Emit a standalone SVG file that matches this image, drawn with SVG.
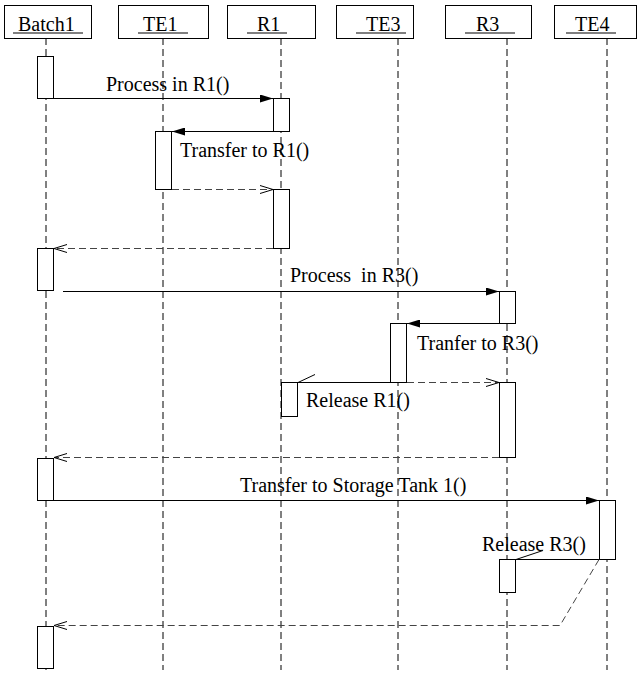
<svg xmlns="http://www.w3.org/2000/svg" width="639" height="675" viewBox="0 0 639 675">
<defs>
<style>
.hdr{fill:#fff;stroke:#000;stroke-width:1}
.ul{stroke:#555;stroke-width:1.5}
.life{stroke:#000;stroke-width:1;stroke-dasharray:7,4;fill:none}
.act{fill:#fff;stroke:#000;stroke-width:1}
.msg{stroke:#000;stroke-width:1;fill:none}
.ret{stroke:#444;stroke-width:1;stroke-dasharray:7,4;fill:none}
text{font-family:"Liberation Serif","Times New Roman",serif;font-size:20px;fill:#000}
</style>
<marker id="filled" markerWidth="14" markerHeight="8" refX="13" refY="4" orient="auto" markerUnits="userSpaceOnUse">
<path d="M0,0 L13,4 L0,8 Z" fill="#000"/>
</marker>
<marker id="open" markerWidth="14" markerHeight="10" refX="13" refY="5" orient="auto" markerUnits="userSpaceOnUse">
<path d="M0,1 L13,5 L0,9" fill="none" stroke="#000" stroke-width="1"/>
</marker>
</defs>
<rect width="639" height="675" fill="#fff"/>

<g id="lifelines">
<line class="life" x1="46" y1="38" x2="46" y2="670"/>
<line class="life" x1="163" y1="38" x2="163" y2="670"/>
<line class="life" x1="281" y1="38" x2="281" y2="670"/>
<line class="life" x1="398" y1="38" x2="398" y2="670"/>
<line class="life" x1="507" y1="38" x2="507" y2="670"/>
<line class="life" x1="607" y1="38" x2="607" y2="670"/>
</g>

<g id="Batch1">
<rect class="hdr" x="4.5" y="5.5" width="87" height="33"/>
<line class="ul" x1="13" y1="33" x2="83" y2="33"/>
<text x="18" y="31">Batch1</text>
<rect class="act" x="37.5" y="56.5" width="16" height="42"/>
<rect class="act" x="37.5" y="248.5" width="16" height="42"/>
<rect class="act" x="37.5" y="458.5" width="16" height="42"/>
<rect class="act" x="37.5" y="626.5" width="16" height="42"/>
</g>

<g id="TE1">
<rect class="hdr" x="118.5" y="5.5" width="90" height="33"/>
<line class="ul" x1="138" y1="33" x2="188" y2="33"/>
<text x="143" y="31">TE1</text>
<rect class="act" x="155.5" y="131.5" width="16" height="58"/>
</g>

<g id="R1">
<rect class="hdr" x="227.5" y="5.5" width="88" height="33"/>
<line class="ul" x1="247" y1="33" x2="287" y2="33"/>
<text x="257" y="31">R1</text>
<rect class="act" x="273.5" y="98.5" width="16" height="33"/>
<rect class="act" x="273.5" y="189.5" width="16" height="59"/>
<rect class="act" x="281.5" y="382.5" width="16" height="34"/>
</g>

<g id="TE3">
<rect class="hdr" x="336.5" y="5.5" width="77" height="33"/>
<line class="ul" x1="356" y1="33" x2="406" y2="33"/>
<text x="366" y="31">TE3</text>
<rect class="act" x="390.5" y="323.5" width="16" height="59"/>
</g>

<g id="R3">
<rect class="hdr" x="445.5" y="5.5" width="86" height="33"/>
<line class="ul" x1="465" y1="33" x2="515" y2="33"/>
<text x="476" y="31">R3</text>
<rect class="act" x="499.5" y="291.5" width="16" height="32"/>
<rect class="act" x="499.5" y="382.5" width="16" height="75"/>
<rect class="act" x="499.5" y="559.5" width="16" height="33"/>
</g>

<g id="TE4">
<rect class="hdr" x="554.5" y="5.5" width="82" height="33"/>
<line class="ul" x1="566" y1="33" x2="616" y2="33"/>
<text x="575" y="31">TE4</text>
<rect class="act" x="599.5" y="500.5" width="16" height="59"/>
</g>

<g id="connectors">
<line class="msg" x1="54" y1="98.5" x2="273" y2="98.5" marker-end="url(#filled)"/>
<line class="msg" x1="273" y1="131.5" x2="172" y2="131.5" marker-end="url(#filled)"/>
<line class="ret" x1="172" y1="189.5" x2="273" y2="189.5" marker-end="url(#open)"/>
<line class="ret" x1="273" y1="248.5" x2="54" y2="248.5" marker-end="url(#open)"/>
<line class="msg" x1="63" y1="291.5" x2="499" y2="291.5" marker-end="url(#filled)"/>
<line class="msg" x1="499" y1="323.5" x2="407" y2="323.5" marker-end="url(#filled)"/>
<line class="ret" x1="407" y1="382.5" x2="499" y2="382.5" marker-end="url(#open)"/>
<line class="msg" x1="390" y1="382.5" x2="298" y2="382.5"/>
<line class="msg" x1="298" y1="382.5" x2="315" y2="374.5"/>
<line class="ret" x1="499" y1="457.5" x2="54" y2="457.5" marker-end="url(#open)"/>
<line class="msg" x1="54" y1="500.5" x2="599" y2="500.5" marker-end="url(#filled)"/>
<line class="msg" x1="599" y1="559.5" x2="516" y2="559.5"/>
<line class="msg" x1="516" y1="559.5" x2="543" y2="550.5"/>
<polyline class="ret" points="599,559.5 560,625.5 54,625.5" marker-end="url(#open)"/>
</g>

<g id="labels">
<text x="106" y="91">Process in R1()</text>
<text x="180" y="157">Transfer to R1()</text>
<text x="290" y="282" xml:space="preserve" style="white-space:pre">Process  in R3()</text>
<text x="417" y="350">Tranfer to R3()</text>
<text x="306" y="407">Release R1()</text>
<text x="240" y="492">Transfer to Storage Tank 1()</text>
<text x="482" y="551">Release R3()</text>
</g>
</svg>
